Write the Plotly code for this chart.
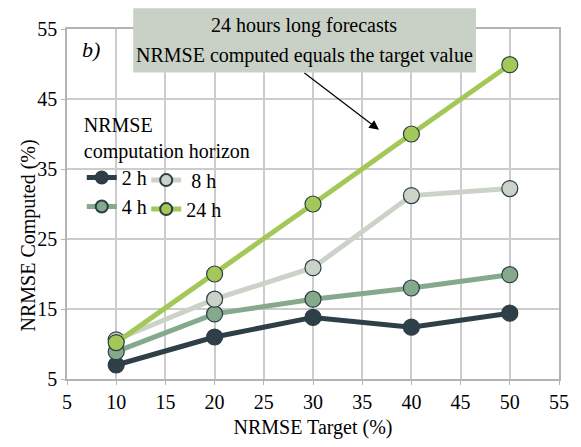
import plotly.graph_objects as go

# NRMSE target values (x) and computed NRMSE per computation horizon (y)
targets = [10, 20, 30, 40, 50]
nrmse_2h = [7.0, 11.0, 13.8, 12.4, 14.4]
nrmse_4h = [8.9, 14.3, 16.4, 18.0, 19.9]
nrmse_8h = [10.6, 16.4, 20.9, 31.2, 32.2]
nrmse_24h = [10.2, 20.0, 30.0, 40.0, 49.9]

x_ticks = [5, 10, 15, 20, 25, 30, 35, 40, 45, 50, 55]
y_ticks = [5, 15, 25, 35, 45, 55]

FONT = "Liberation Serif, Times New Roman, serif"
EDGE = "#2c3d46"

series = [
    ("2 h", nrmse_2h, "#2e3f48", "legend", 1),
    ("4 h", nrmse_4h, "#84a98c", "legend", 2),
    ("\u00a08 h", nrmse_8h, "#cbd3c8", "legend2", 1),
    ("24 h", nrmse_24h, "#a3c858", "legend2", 2),
]

fig = go.Figure()
for name, vals, color, leg, rank in series:
    fig.add_trace(go.Scatter(
        x=targets, y=vals, name=name, mode="lines+markers",
        line=dict(color=color, width=5),
        marker=dict(size=16, color=color, line=dict(color=EDGE, width=1.2)),
        legend=leg, legendrank=rank,
    ))

axis_common = dict(
    showline=True, linecolor="#b4b4b4", linewidth=1.5, mirror=True,
    showgrid=True, gridcolor="#cccccc", gridwidth=1.5,
    ticks="outside", ticklen=4, tickcolor="#b4b4b4",
    tickfont=dict(family=FONT, size=20, color="black"),
    zeroline=False,
)

fig.update_xaxes(range=[5, 55], tickvals=x_ticks, **axis_common,
                 title=dict(text="NRMSE Target (%)",
                            font=dict(family=FONT, size=20, color="black"),
                            standoff=8))
fig.update_yaxes(range=[5, 55], tickvals=y_ticks, **axis_common)

legend_style = dict(
    font=dict(family=FONT, size=20, color="black"),
    bgcolor="rgba(0,0,0,0)", itemsizing="constant", itemwidth=30,
    tracegroupgap=0, xanchor="left", yanchor="top",
)
fig.update_layout(
    legend=dict(x=0.03, y=0.78,
                title=dict(text="NRMSE<br>computation horizon",
                           font=dict(family=FONT, size=20, color="black")),
                **legend_style),
    legend2=dict(x=0.161, y=0.624, **legend_style),
)

# Explanatory box with arrow pointing at the 24 h line
fig.add_shape(type="rect", xref="paper", yref="paper",
              x0=(134 - 67) / 498, x1=(481 - 67) / 498,
              y0=(384 - 73) / 355, y1=(384 - 8) / 355,
              fillcolor="#c9d1c6", line=dict(width=0), layer="above")
for text, py in [("24 hours long forecasts", 25),
                 ("NRMSE computed equals the target value", 56)]:
    fig.add_annotation(xref="paper", yref="paper", x=(307 - 67) / 498, y=(384 - py) / 355,
                       xanchor="center", yanchor="middle",
                       text=text, showarrow=False,
                       font=dict(family=FONT, size=20, color="black"))
fig.add_annotation(x=36.7, y=40.6, text="", showarrow=True,
                   axref="pixel", ayref="pixel", ax=-76, ay=-58,
                   arrowhead=2, arrowsize=1.6, arrowwidth=1.2, arrowcolor="black")

# Panel label
fig.add_annotation(xref="paper", yref="paper", x=(91 - 67) / 498, y=(384 - 50) / 355,
                   xanchor="center", yanchor="middle",
                   text="<i>b)</i>", showarrow=False,
                   font=dict(family=FONT, size=22, color="black"))

# Y-axis title
fig.add_annotation(xref="paper", yref="paper", x=-(67 - 28) / 498, y=(384 - 238) / 355,
                   xanchor="center", yanchor="middle",
                   text="NRMSE Computed (%)", textangle=-90, showarrow=False,
                   font=dict(family=FONT, size=20, color="black"))

fig.update_layout(
    width=581, height=447,
    margin=dict(l=67, r=16, t=29, b=63),
    paper_bgcolor="white", plot_bgcolor="white",
    font=dict(family=FONT, size=20, color="black"),
)

fig.write_html("out.html")
